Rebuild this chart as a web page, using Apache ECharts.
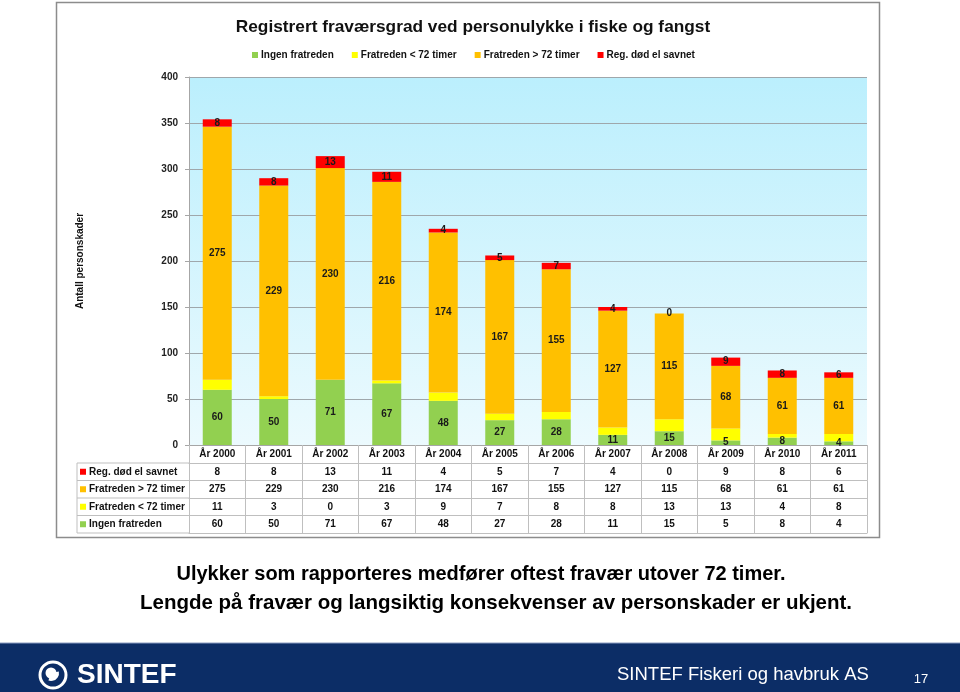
<!DOCTYPE html>
<html><head><meta charset="utf-8">
<script src="https://cdn.jsdelivr.net/npm/echarts@6/dist/echarts.min.js"></script>
<style>html,body{margin:0;padding:0;background:#fff}#c{width:960px;height:692px}</style>
</head><body><div id="c"></div>
<script>
const years = ['År 2000','År 2001','År 2002','År 2003','År 2004','År 2005','År 2006','År 2007','År 2008','År 2009','År 2010','År 2011'];
const ingenFratreden = [60,50,71,67,48,27,28,11,15,5,8,4];
const under72 = [11,3,0,3,9,7,8,8,13,13,4,8];
const over72 = [275,229,230,216,174,167,155,127,115,68,61,61];
const dodSavnet = [8,8,13,11,4,5,7,4,0,9,8,6];
const seriesNames = ['Ingen fratreden','Fratreden < 72 timer','Fratreden > 72 timer','Reg. død el savnet'];
const colors = ['#92d050','#ffff00','#ffc000','#ff0000'];
const yMin = 0, yMax = 400, yStep = 50;
// table rows (top to bottom)
const tableRows = [
  {name: seriesNames[3], color: colors[3], values: dodSavnet},
  {name: seriesNames[2], color: colors[2], values: over72},
  {name: seriesNames[1], color: colors[1], values: under72},
  {name: seriesNames[0], color: colors[0], values: ingenFratreden}
];

const F = "'Liberation Sans',Arial,sans-serif";
const FS = 10;
const gridLeft = 189, gridTop = 77, gridRight = 93, gridBottom = 247;
const axisBottomY = 692 - gridBottom;
const yearRowH = 18, rowH = 17.5;
const tableLeft = 77;
const lineCol = '#bfbfbf';

const chart = echarts.init(document.getElementById('c'), null, {renderer: 'canvas'});

const xAxes = [{
  type: 'category', data: years, gridIndex: 0, position: 'bottom',
  axisLine: {show: true, lineStyle: {color: '#a6a6a6'}},
  axisTick: {show: true, length: yearRowH, lineStyle: {color: lineCol}},
  axisLabel: {interval: 0, margin: 4, fontFamily: F, fontWeight: 'bold', fontSize: FS, color: '#111'}
}];
tableRows.forEach((r, i) => {
  xAxes.push({
    type: 'category', data: r.values.map(String), gridIndex: 0, position: 'bottom',
    offset: yearRowH + i * rowH,
    axisLine: {show: true, lineStyle: {color: lineCol}},
    axisTick: {show: true, length: rowH, lineStyle: {color: lineCol}},
    axisLabel: {interval: 0, margin: 4, fontFamily: F, fontWeight: 'bold', fontSize: FS, color: '#111'}
  });
});
xAxes.push({
  type: 'category', data: years, gridIndex: 0, position: 'bottom',
  offset: yearRowH + tableRows.length * rowH,
  axisLine: {show: true, lineStyle: {color: lineCol}},
  axisTick: {show: false}, axisLabel: {show: false}
});

const graphics = [];
// chart frame
graphics.push({type: 'rect', shape: {x: 56.5, y: 2.5, width: 823, height: 535}, style: {fill: 'none', stroke: '#8c8c8c', lineWidth: 1.5}, z: -10});
// table left column lines
for (let i = 0; i <= tableRows.length; i++) {
  const y = axisBottomY + yearRowH + i * rowH;
  graphics.push({type: 'line', shape: {x1: tableLeft, y1: y, x2: gridLeft, y2: y}, style: {stroke: lineCol, lineWidth: 1}});
}
graphics.push({type: 'line', shape: {x1: tableLeft, y1: axisBottomY + yearRowH, x2: tableLeft, y2: axisBottomY + yearRowH + tableRows.length * rowH}, style: {stroke: lineCol, lineWidth: 1}});
tableRows.forEach((r, i) => {
  const cy = axisBottomY + yearRowH + i * rowH + rowH / 2;
  graphics.push({type: 'rect', shape: {x: 80, y: cy - 3, width: 6, height: 6}, style: {fill: r.color}});
  graphics.push({type: 'text', x: 89, y: cy, style: {text: r.name, fontFamily: F, fontWeight: 'bold', fontSize: FS, fill: '#111', verticalAlign: 'middle'}});
});
// slide text
graphics.push({type: 'text', x: 481, y: 574, style: {text: 'Ulykker som rapporteres medfører oftest fravær utover 72 timer.', fontFamily: F, fontWeight: 'bold', fontSize: 20, fill: '#000', align: 'center', verticalAlign: 'middle'}});
graphics.push({type: 'text', x: 496, y: 603, style: {text: 'Lengde på fravær og langsiktig konsekvenser av personskader er ukjent.', fontFamily: F, fontWeight: 'bold', fontSize: 20.5, fill: '#000', align: 'center', verticalAlign: 'middle'}});
// footer
graphics.push({type: 'rect', shape: {x: 0, y: 643, width: 960, height: 49}, style: {fill: '#0c2d66'}});
graphics.push({type: 'line', shape: {x1: 0, y1: 643, x2: 960, y2: 643}, style: {stroke: '#8a9cc0', lineWidth: 1}});
graphics.push({type: 'circle', shape: {cx: 53, cy: 675, r: 13}, style: {fill: 'none', stroke: '#fff', lineWidth: 3}});
graphics.push({type: 'circle', shape: {cx: 51, cy: 673, r: 5.5}, style: {fill: '#fff'}});
graphics.push({type: 'arc', shape: {cx: 51, cy: 673, r: 6, startAngle: -0.2, endAngle: 1.9}, style: {stroke: '#fff', lineWidth: 4, fill: 'none'}});
graphics.push({type: 'text', x: 77, y: 675, style: {text: 'SINTEF', fontFamily: F, fontWeight: 'bold', fontSize: 28, fill: '#fff', verticalAlign: 'middle'}});
graphics.push({type: 'text', x: 617, y: 675, style: {text: 'SINTEF Fiskeri og havbruk AS', fontFamily: F, fontWeight: 'normal', fontSize: 18.5, fill: '#fff', verticalAlign: 'middle'}});
graphics.push({type: 'text', x: 921, y: 679, style: {text: '17', fontFamily: F, fontSize: 13, fill: '#fff', align: 'center', verticalAlign: 'middle'}});

const labelStyle = {show: true, position: 'inside', fontFamily: F, fontWeight: 'bold', fontSize: FS, color: '#1a1a1a'};
const seriesData = [ingenFratreden, under72, over72, dodSavnet];

const option = {
  animation: false,
  backgroundColor: '#fff',
  title: {
    text: 'Registrert fraværsgrad ved personulykke i fiske og fangst',
    left: 468, top: 14, textAlign: 'center',
    textStyle: {fontFamily: F, fontWeight: 'bold', fontSize: 17.3, color: '#111'}
  },
  legend: {
    top: 45, left: 247, itemWidth: 6, itemHeight: 6, itemGap: 18, icon: 'rect',
    data: seriesNames,
    textStyle: {fontFamily: F, fontWeight: 'bold', fontSize: FS, color: '#111', padding: [0, 0, 0, -2]}
  },
  grid: {
    left: gridLeft, right: gridRight, top: gridTop, bottom: gridBottom, show: true, borderWidth: 0,
    backgroundColor: new echarts.graphic.LinearGradient(0, 0, 0, 1, [
      {offset: 0, color: '#bbeffd'}, {offset: 1, color: '#ecfafe'}
    ])
  },
  xAxis: xAxes,
  yAxis: {
    type: 'value', min: yMin, max: yMax, interval: yStep,
    name: 'Antall personskader', nameLocation: 'middle', nameGap: 104, nameRotate: 90,
    nameTextStyle: {fontFamily: F, fontWeight: 'bold', fontSize: FS, color: '#111'},
    axisLine: {show: true, lineStyle: {color: '#a6a6a6'}},
    axisTick: {show: true, length: 4, lineStyle: {color: '#a6a6a6'}},
    axisLabel: {margin: 11, fontFamily: F, fontWeight: 'bold', fontSize: FS, color: '#222'},
    splitLine: {show: true, lineStyle: {color: '#9fa7ab'}}
  },
  series: seriesData.map((d, i) => ({
    name: seriesNames[i], type: 'bar', stack: 'total', barWidth: 29,
    xAxisIndex: 0, data: d,
    itemStyle: {color: colors[i]},
    label: i === 1 ? {show: false} : labelStyle
  })),
  graphic: graphics
};
chart.setOption(option);
</script></body></html>
